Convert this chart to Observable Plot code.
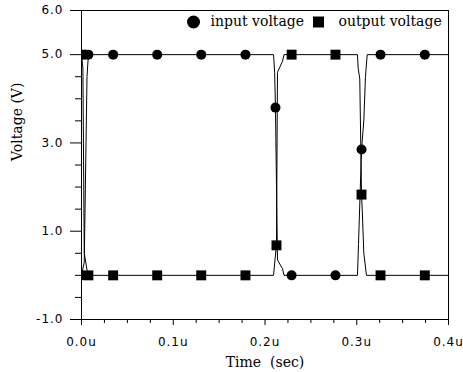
<!DOCTYPE html>
<html>
<head>
<meta charset="utf-8">
<script src="https://cdn.jsdelivr.net/npm/d3@7"></script>
<script src="https://cdn.jsdelivr.net/npm/@observablehq/plot@0.6"></script>
<style>
  body { margin: 0; background: #fff; }
  #chart svg { display: block; background: #fff; }
  #chart g[aria-label="x-axis tick label"] text,
  #chart g[aria-label="y-axis tick label"] text { letter-spacing: 1px; }
</style>
</head>
<body>
<div id="chart"></div>
<script>
// ---- data (time in microseconds, voltage in V) ----
const inputTime  = [0, 0.0030, 0.0060, 0.0075, 0.2093, 0.2105, 0.2114, 0.2136, 0.2191, 0.2207, 0.3008, 0.3019, 0.3052, 0.3077, 0.3095, 0.3114, 0.4];
const inputVolt  = [0, 0.3, 4.5, 5, 5, 4.6, 3.8, 0.35, 0.15, 0, 0, 0.7, 2.85, 3.5, 4.5, 5, 5];
const outputTime = [0, 0.0015, 0.0030, 0.0070, 0.2093, 0.2111, 0.2125, 0.2136, 0.2191, 0.2207, 0.3008, 0.3015, 0.3033, 0.3052, 0.3060, 0.3077, 0.3106, 0.4];
const outputVolt = [5, 4.7, 0.5, 0, 0, 0.4, 0.68, 4.6, 4.85, 5, 5, 4.7, 4.45, 1.83, 1.48, 0.5, 0, 0];

const inputMarkerTime  = [0, 0.0075, 0.0345, 0.0825, 0.1305, 0.1787, 0.2114, 0.229, 0.2768, 0.3052, 0.3259, 0.3742];
const inputMarkerVolt  = [0, 5, 5, 5, 5, 5, 3.8, 0, 0, 2.85, 5, 5];
const outputMarkerTime = [0, 0.0075, 0.0345, 0.0825, 0.1305, 0.1787, 0.2125, 0.229, 0.2768, 0.3052, 0.3259, 0.3742];
const outputMarkerVolt = [5, 0, 0, 0, 0, 0, 0.68, 5, 5, 1.83, 0, 0];

const xTickValues = [0, 0.1, 0.2, 0.3, 0.4];
const xMinorTicks = [0.025, 0.05, 0.075, 0.125, 0.15, 0.175, 0.225, 0.25, 0.275, 0.325, 0.35, 0.375];
const yTickValues = [6, 5, 3, 1, -1];
const yMinorTicks = [4.5, 4, 3.5, 2.5, 2, 1.5, 0.5, 0, -0.5];

const seriesNames = ["input voltage", "output voltage"];
const xTitle = "Time\u00a0\u00a0(sec)";
const yTitle = "Voltage (V)";

// ---- tables built from the arrays ----
const inputLine  = inputTime.map((t, i) => ({t, v: inputVolt[i]}));
const outputLine = outputTime.map((t, i) => ({t, v: outputVolt[i]}));
const inputMarks  = inputMarkerTime.map((t, i) => ({t, v: inputMarkerVolt[i]}));
const outputMarks = outputMarkerTime.map((t, i) => ({t, v: outputMarkerVolt[i]}));

const sans = "DejaVu Sans";
const serif = "DejaVu Serif";

const chart = Plot.plot({
  width: 463,
  height: 372,
  marginLeft: 81,
  marginRight: 15,
  marginTop: 10,
  marginBottom: 53,
  style: {background: "white", color: "black", fontFamily: sans, fontSize: "12px"},
  x: {domain: [0, 0.4]},
  y: {domain: [-1, 6]},
  marks: [
    Plot.axisY(yMinorTicks, {tickSize: 6, tickFormat: () => "", label: null}),
    Plot.axisY(yTickValues, {tickSize: 11, tickPadding: 7, tickFormat: d => d.toFixed(1), label: null, fontFamily: sans, fontSize: 12}),
    Plot.axisX(xMinorTicks, {tickSize: 4, tickFormat: () => "", label: null}),
    Plot.axisX(xTickValues, {tickSize: 6, tickPadding: 12, tickFormat: d => d.toFixed(1) + "u", label: null, fontFamily: sans, fontSize: 12}),
    Plot.frame({stroke: "black"}),
    Plot.line(inputLine, {x: "t", y: "v", stroke: "black", strokeWidth: 1}),
    Plot.line(outputLine, {x: "t", y: "v", stroke: "black", strokeWidth: 1}),
    Plot.dot(inputMarks, {x: "t", y: "v", r: 5, symbol: "circle", fill: "black", clip: true}),
    Plot.dot(outputMarks, {x: "t", y: "v", r: 5.6, symbol: "square", fill: "black", clip: true}),
    // legend
    Plot.dot([seriesNames[0]], {frameAnchor: "top-left", dx: 112, dy: 11.5, r: 6.5, symbol: "circle", fill: "black"}),
    Plot.text([seriesNames[0]], {text: d => d, frameAnchor: "top-left", dx: 129, dy: 11, textAnchor: "start", lineAnchor: "middle", fontFamily: serif, fontSize: 14, fill: "black"}),
    Plot.dot([seriesNames[1]], {frameAnchor: "top-left", dx: 237, dy: 11.5, r: 6.2, symbol: "square", fill: "black"}),
    Plot.text([seriesNames[1]], {text: d => d, frameAnchor: "top-left", dx: 257, dy: 11, textAnchor: "start", lineAnchor: "middle", fontFamily: serif, fontSize: 14, fill: "black"}),
    // axis titles
    Plot.text([xTitle], {text: d => d, frameAnchor: "bottom", dy: 43, lineAnchor: "middle", fontFamily: serif, fontSize: 14, fill: "black"}),
    Plot.text([yTitle], {text: d => d, frameAnchor: "left", dx: -64, dy: -4, rotate: -90, lineAnchor: "middle", fontFamily: serif, fontSize: 14, fill: "black"})
  ]
});
document.getElementById("chart").appendChild(chart);
</script>
</body>
</html>
